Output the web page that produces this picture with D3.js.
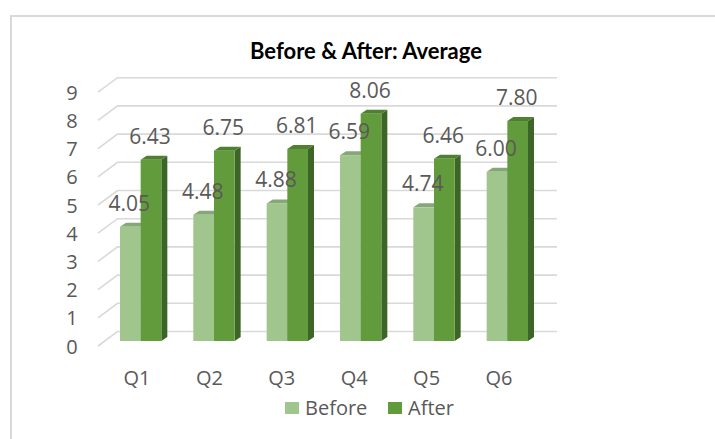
<!DOCTYPE html>
<html>
<head>
<meta charset="utf-8">
<script src="https://cdn.jsdelivr.net/npm/d3@7"></script>
<style>
  html, body { margin: 0; padding: 0; background: #ffffff; }
  svg { display: block; }
</style>
</head>
<body>
<svg id="chart" width="715" height="439"></svg>
<script>
// Survey averages per question, before and after
const categories = ["Q1", "Q2", "Q3", "Q4", "Q5", "Q6"];
const seriesNames = ["Before", "After"];
const beforeValues = [4.05, 4.48, 4.88, 6.59, 4.74, 6.00];
const afterValues = [6.43, 6.75, 6.81, 8.06, 6.46, 7.80];
const yTicks = [0, 1, 2, 3, 4, 5, 6, 7, 8, 9];

const colors = {
  Before: { front: "#a0c58d", top: "#86a877", side: "#7c9e6a" },
  After:  { front: "#629b3c", top: "#4f7f30", side: "#3e6528" }
};

const svg = d3.select("#chart");
const font = "'Open Sans', 'Liberation Sans', sans-serif";
const textGray = "#595959";
const gridColor = "#d9d9d9";

// Outer chart frame
svg.append("path")
  .attr("d", "M11,439 V16 H715")
  .attr("fill", "none")
  .attr("stroke", "#d9d9d9")
  .attr("stroke-width", 2);

// Title
svg.append("text")
  .attr("x", 366).attr("y", 50)
  .attr("text-anchor", "middle")
  .attr("dominant-baseline", "central")
  .attr("font-family", "Lato, 'Open Sans', sans-serif")
  .attr("font-weight", "bold")
  .attr("font-size", 22)
  .attr("fill", "#000000")
  .text("Before & After: Average");

// Scales: front plane of the columns
const y = d3.scaleLinear().domain([0, 9]).range([341, 341 - 9 * 28.2]);
const x0 = d3.scaleBand().domain(categories).range([120, 528]).paddingInner(0.4364).paddingOuter(0);
const x1 = d3.scaleBand().domain(seriesNames).range([0, x0.bandwidth()]);
const xLabel = d3.scalePoint().domain(categories).range([137, 499]);

// Depth of the walls and of each column
const wall = { dx: 19.5, dy: 14.5, left: 98, right: 557 };
const depth = { dx: 6, dy: 4 };

// Back wall gridlines with the left-side floor diagonal
const grid = svg.append("g");
yTicks.forEach(v => {
  const yb = y(v) - 9.5;
  grid.append("path")
    .attr("d", `M${wall.left},${yb + wall.dy} L${wall.left + wall.dx},${yb} H${wall.right}`)
    .attr("fill", "none")
    .attr("stroke", gridColor)
    .attr("stroke-width", 1.6);
});

// Y axis labels
svg.append("g").selectAll("text")
  .data(yTicks)
  .join("text")
  .attr("x", 72)
  .attr("y", d => y(d) - 9.5 + wall.dy)
  .attr("text-anchor", "middle")
  .attr("dominant-baseline", "central")
  .attr("font-family", font)
  .attr("font-size", 20)
  .attr("fill", textGray)
  .text(d => d);

// Columns
const rows = categories.map((c, i) => ({ cat: c, Before: beforeValues[i], After: afterValues[i] }));
const bars = svg.append("g");
rows.forEach(r => {
  seriesNames.forEach(s => {
    const xl = x0(r.cat) + x1(s);
    const xr = xl + x1.bandwidth();
    const yt = y(r[s]);
    const yb = y(0);
    const c = colors[s];
    // side face
    bars.append("path")
      .attr("d", `M${xr},${yb} L${xr + depth.dx},${yb - depth.dy} L${xr + depth.dx},${yt - depth.dy} L${xr},${yt} Z`)
      .attr("fill", c.side);
    // top face
    bars.append("path")
      .attr("d", `M${xl},${yt} L${xl + depth.dx},${yt - depth.dy} L${xr + depth.dx},${yt - depth.dy} L${xr},${yt} Z`)
      .attr("fill", c.top);
    // front face
    bars.append("rect")
      .attr("x", xl).attr("y", yt)
      .attr("width", x1.bandwidth())
      .attr("height", yb - yt)
      .attr("fill", c.front);
  });
});

// Value labels
const labels = svg.append("g");
rows.forEach(r => {
  seriesNames.forEach(s => {
    labels.append("text")
      .attr("x", x0(r.cat) + x1(s) + x1.bandwidth() / 2 - 1)
      .attr("y", y(r[s]) - 24)
      .attr("text-anchor", "middle")
      .attr("dominant-baseline", "central")
      .attr("font-family", font)
      .attr("font-size", 21)
      .attr("fill", textGray)
      .text(r[s].toFixed(2));
  });
});

// Category labels
svg.append("g").selectAll("text")
  .data(categories)
  .join("text")
  .attr("x", d => xLabel(d))
  .attr("y", 377)
  .attr("text-anchor", "middle")
  .attr("dominant-baseline", "central")
  .attr("font-family", font)
  .attr("font-size", 20)
  .attr("fill", textGray)
  .text(d => d);

// Legend
const legendItems = [
  { name: "Before", x: 285 },
  { name: "After", x: 388 }
];
const legend = svg.append("g");
legendItems.forEach(it => {
  legend.append("rect")
    .attr("x", it.x).attr("y", 402)
    .attr("width", 14).attr("height", 12)
    .attr("fill", colors[it.name].front);
  legend.append("text")
    .attr("x", it.x + 20).attr("y", 407)
    .attr("dominant-baseline", "central")
    .attr("font-family", font)
    .attr("font-size", 20)
    .attr("fill", textGray)
    .text(it.name);
});
</script>
</body>
</html>
